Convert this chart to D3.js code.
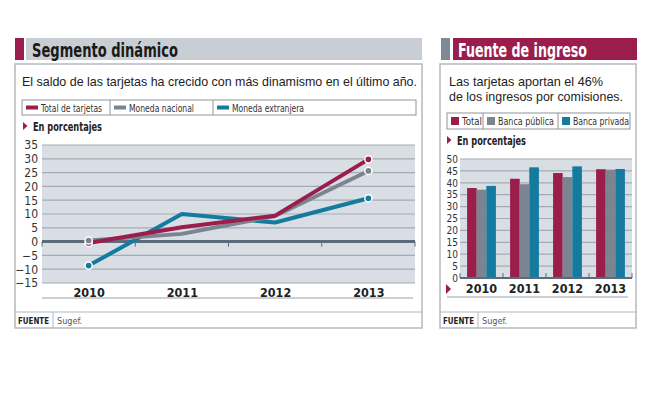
<!DOCTYPE html>
<html>
<head>
<meta charset="utf-8">
<script src="https://cdn.jsdelivr.net/npm/d3@7"></script>
<style>
  body { margin: 0; background: #fff; }
  svg { display: block; }
  .cond { font-family: "DejaVu Sans Condensed", "DejaVu Sans", sans-serif; font-stretch: condensed; }
  .reg { font-family: "Liberation Sans", "Open Sans", sans-serif; }
</style>
</head>
<body>
<div id="chart"></div>
<script>
// Left chart: variation of card balance (%)
const years = ["2010", "2011", "2012", "2013"];
const lineNames = ["Total de tarjetas", "Moneda nacional", "Moneda extranjera"];
const totalTarjetas = [-0.5, 5.2, 9.4, 29.8];
const monedaNacional = [0.4, 2.8, 9.3, 25.6];
const monedaExtranjera = [-8.7, 10, 6.9, 15.7];
const lineTicks = [35, 30, 25, 20, 15, 10, 5, 0, -5, -10, -15];

// Right chart: share of commission income (%)
const barNames = ["Total", "Banca pública", "Banca privada"];
const barTotal = [37.8, 41.7, 44.1, 45.7];
const barPublica = [37.1, 39.4, 42.4, 45.5];
const barPrivada = [38.7, 46.5, 46.9, 45.8];
const barTicks = [50, 45, 40, 35, 30, 25, 20, 15, 10, 5, 0];

const colors = ["#9a1d4c", "#7a8591", "#147b9e"];
const plotBg = "#d9dee4";
const gridColor = "#a3abb4";
const axisColor = "#5b6b7a";

const svg = d3.select("#chart").append("svg")
  .attr("width", 653)
  .attr("height", 398);

svg.append("rect").attr("width", 653).attr("height", 398).attr("fill", "#fff");

// ---------- helpers ----------
function panelBox(x0, x1, yTop, yBottom, sepX) {
  svg.append("rect")
    .attr("x", x0).attr("y", yTop)
    .attr("width", x1 - x0).attr("height", yBottom - yTop)
    .attr("fill", "none").attr("stroke", "#b4b9be").attr("stroke-width", 1.5);
  // footer
  svg.append("line")
    .attr("x1", x0).attr("x2", x1).attr("y1", 312).attr("y2", 312)
    .attr("stroke", "#b4b9be").attr("stroke-width", 1);
  svg.append("line")
    .attr("x1", sepX).attr("x2", sepX).attr("y1", 312).attr("y2", yBottom)
    .attr("stroke", "#b4b9be").attr("stroke-width", 1);
  svg.append("text").attr("class", "cond")
    .attr("x", x0 + 3).attr("y", 324)
    .attr("font-size", 9).attr("font-weight", "bold").attr("fill", "#222")
    .attr("textLength", 31).attr("lengthAdjust", "spacingAndGlyphs")
    .text("FUENTE");
  svg.append("text").attr("class", "cond")
    .attr("x", sepX + 4).attr("y", 324)
    .attr("font-size", 9).attr("fill", "#555")
    .text("Sugef.");
}

function legend(x0, x1, y0, h, dividers, names, widths, swW, swH) {
  svg.append("rect")
    .attr("x", x0).attr("y", y0).attr("width", x1 - x0).attr("height", h)
    .attr("fill", "#fff").attr("stroke", "#8f959b").attr("stroke-width", 1);
  const starts = [x0].concat(dividers);
  dividers.forEach(d => {
    svg.append("line").attr("x1", d).attr("x2", d).attr("y1", y0).attr("y2", y0 + h)
      .attr("stroke", "#8f959b").attr("stroke-width", 1);
  });
  names.forEach((n, i) => {
    const sx = starts[i] + 4;
    svg.append("rect")
      .attr("x", sx).attr("y", y0 + h / 2 - swH / 2)
      .attr("width", swW).attr("height", swH)
      .attr("fill", colors[i]);
    svg.append("text").attr("class", "cond")
      .attr("x", sx + swW + 3).attr("y", y0 + h / 2 + 4)
      .attr("font-size", 11).attr("fill", "#333")
      .attr("textLength", widths[i]).attr("lengthAdjust", "spacingAndGlyphs")
      .text(n);
  });
}

function unitLabel(x, y) {
  svg.append("path")
    .attr("d", `M${x},${y - 9}L${x + 4.5},${y - 5}L${x},${y - 1}Z`)
    .attr("fill", colors[0]);
  svg.append("text").attr("class", "cond")
    .attr("x", x + 10).attr("y", y)
    .attr("font-size", 11.5).attr("font-weight", "bold").attr("fill", "#222")
    .attr("textLength", 69).attr("lengthAdjust", "spacingAndGlyphs")
    .text("En porcentajes");
}

// ---------- left panel ----------
svg.append("rect").attr("x", 15).attr("y", 38).attr("width", 9).attr("height", 22).attr("fill", colors[0]);
svg.append("rect").attr("x", 26).attr("y", 38).attr("width", 396).attr("height", 22).attr("fill", "#c9ced4");
svg.append("text").attr("class", "cond")
  .attr("x", 32).attr("y", 56.5)
  .attr("font-size", 20).attr("font-weight", "bold").attr("fill", "#1a1a1a")
  .attr("textLength", 146).attr("lengthAdjust", "spacingAndGlyphs")
  .text("Segmento dinámico");

panelBox(15, 422, 64, 328, 53);

svg.append("text").attr("class", "reg")
  .attr("x", 22).attr("y", 86)
  .attr("font-size", 13).attr("fill", "#222")
  .attr("textLength", 395).attr("lengthAdjust", "spacingAndGlyphs")
  .text("El saldo de las tarjetas ha crecido con más dinamismo en el último año.");

legend(22, 416, 100, 15, [110, 213], lineNames, [61, 65, 72], 12, 4);
unitLabel(23, 131);

const xL = d3.scalePoint().domain(years).range([42, 415]).padding(0.5);
const yL = d3.scaleLinear().domain([-15, 35]).range([283, 145]);

svg.append("rect")
  .attr("x", 42).attr("y", yL(35))
  .attr("width", 373).attr("height", yL(-15) - yL(35))
  .attr("fill", plotBg);

svg.append("g").selectAll("line")
  .data(lineTicks.filter(t => t !== 0))
  .join("line")
  .attr("x1", 42).attr("x2", 415)
  .attr("y1", d => yL(d)).attr("y2", d => yL(d))
  .attr("stroke", gridColor).attr("stroke-width", 1.2);

// y axis labels
svg.append("g")
  .attr("transform", "translate(42,0)")
  .call(d3.axisLeft(yL).tickValues(lineTicks).tickSize(0).tickPadding(4))
  .call(g => g.select(".domain").remove())
  .call(g => g.selectAll("text")
    .attr("class", "cond").attr("font-size", 12).attr("fill", "#333"));

// zero axis with band ticks
const stepL = xL.step();
svg.append("line")
  .attr("x1", 42).attr("x2", 415).attr("y1", yL(0)).attr("y2", yL(0))
  .attr("stroke", axisColor).attr("stroke-width", 3);
svg.append("g").selectAll("line")
  .data(d3.range(years.length + 1))
  .join("line")
  .attr("x1", i => 42 + i * stepL).attr("x2", i => 42 + i * stepL)
  .attr("y1", yL(0)).attr("y2", yL(0) + 5)
  .attr("stroke", axisColor).attr("stroke-width", 1);

// x labels
svg.append("g")
  .attr("transform", `translate(0,${yL(-15)})`)
  .call(d3.axisBottom(xL).tickSize(0).tickPadding(5))
  .call(g => g.select(".domain").remove())
  .call(g => g.selectAll("text")
    .attr("class", "cond").attr("font-size", 12.5).attr("font-weight", "bold").attr("fill", "#222"));

svg.append("line")
  .attr("x1", 42).attr("x2", 413).attr("y1", 298).attr("y2", 298)
  .attr("stroke", "#9aa0a6").attr("stroke-width", 1);

const lineData = [totalTarjetas, monedaNacional, monedaExtranjera];
const lineGen = d3.line().x((d, i) => xL(years[i])).y(d => yL(d));

// blue first, then gray, then magenta on top
[2, 1, 0].forEach(s => {
  svg.append("path")
    .datum(lineData[s])
    .attr("d", lineGen)
    .attr("fill", "none")
    .attr("stroke", colors[s])
    .attr("stroke-width", 4)
    .attr("stroke-linejoin", "round");
});
[0, 2, 1].forEach(s => {
  const vals = lineData[s];
  [0, vals.length - 1].forEach(i => {
    svg.append("circle")
      .attr("cx", xL(years[i])).attr("cy", yL(vals[i]))
      .attr("r", 3.6)
      .attr("fill", colors[s]).attr("stroke", "#fff").attr("stroke-width", 1.5);
  });
});

// ---------- right panel ----------
svg.append("rect").attr("x", 441).attr("y", 38).attr("width", 9).attr("height", 22).attr("fill", "#7f8a96");
svg.append("rect").attr("x", 453).attr("y", 38).attr("width", 184).attr("height", 22).attr("fill", colors[0]);
svg.append("text").attr("class", "cond")
  .attr("x", 458).attr("y", 56.5)
  .attr("font-size", 20).attr("font-weight", "bold").attr("fill", "#fff")
  .attr("textLength", 129).attr("lengthAdjust", "spacingAndGlyphs")
  .text("Fuente de ingreso");

panelBox(440, 636, 64, 328, 478);

svg.append("text").attr("class", "reg")
  .attr("x", 449).attr("y", 86)
  .attr("font-size", 13).attr("fill", "#222")
  .attr("textLength", 154).attr("lengthAdjust", "spacingAndGlyphs")
  .text("Las tarjetas aportan el 46%");
svg.append("text").attr("class", "reg")
  .attr("x", 449).attr("y", 101)
  .attr("font-size", 13).attr("fill", "#222")
  .attr("textLength", 174).attr("lengthAdjust", "spacingAndGlyphs")
  .text("de los ingresos por comisiones.");

legend(447, 630, 113, 16, [483, 558], barNames, [20, 56, 56], 8, 8);
unitLabel(447, 145);

const xR = d3.scaleBand().domain(years).range([460, 632]).paddingInner(0.33).paddingOuter(0.165);
const xSub = d3.scaleBand().domain(barNames).range([0, xR.bandwidth()]);
const yR = d3.scaleLinear().domain([0, 50]).range([278, 159]);

svg.append("rect")
  .attr("x", 460).attr("y", yR(50))
  .attr("width", 172).attr("height", yR(0) - yR(50))
  .attr("fill", plotBg);

svg.append("g").selectAll("line")
  .data(barTicks.filter(t => t !== 0))
  .join("line")
  .attr("x1", 460).attr("x2", 632)
  .attr("y1", d => yR(d)).attr("y2", d => yR(d))
  .attr("stroke", gridColor).attr("stroke-width", 1.2);

svg.append("g")
  .attr("transform", "translate(460,0)")
  .call(d3.axisLeft(yR).tickValues(barTicks).tickSize(0).tickPadding(2))
  .call(g => g.select(".domain").remove())
  .call(g => g.selectAll("text")
    .attr("class", "cond").attr("font-size", 10).attr("fill", "#333"));

const barData = [barTotal, barPublica, barPrivada];
years.forEach((yr, i) => {
  barNames.forEach((n, s) => {
    svg.append("rect")
      .attr("x", xR(yr) + xSub(n))
      .attr("y", yR(barData[s][i]))
      .attr("width", xSub.bandwidth())
      .attr("height", yR(0) - yR(barData[s][i]))
      .attr("fill", colors[s]);
  });
});

const stepR = xR.step();
svg.append("line")
  .attr("x1", 460).attr("x2", 632).attr("y1", yR(0)).attr("y2", yR(0))
  .attr("stroke", axisColor).attr("stroke-width", 2);
svg.append("g").selectAll("line")
  .data(d3.range(years.length + 1))
  .join("line")
  .attr("x1", i => 460 + i * stepR).attr("x2", i => 460 + i * stepR)
  .attr("y1", yR(0)).attr("y2", yR(0) - 5)
  .attr("stroke", axisColor).attr("stroke-width", 1);

svg.append("g")
  .attr("transform", `translate(0,${yR(0)})`)
  .call(d3.axisBottom(xR).tickSize(0).tickPadding(6))
  .call(g => g.select(".domain").remove())
  .call(g => g.selectAll("text")
    .attr("class", "cond").attr("font-size", 12.5).attr("font-weight", "bold").attr("fill", "#222"));

svg.append("path")
  .attr("d", "M446,284L451,289L446,294Z")
  .attr("fill", colors[0]);

svg.append("line")
  .attr("x1", 447).attr("x2", 628).attr("y1", 297).attr("y2", 297)
  .attr("stroke", "#9aa0a6").attr("stroke-width", 1);
</script>
</body>
</html>
